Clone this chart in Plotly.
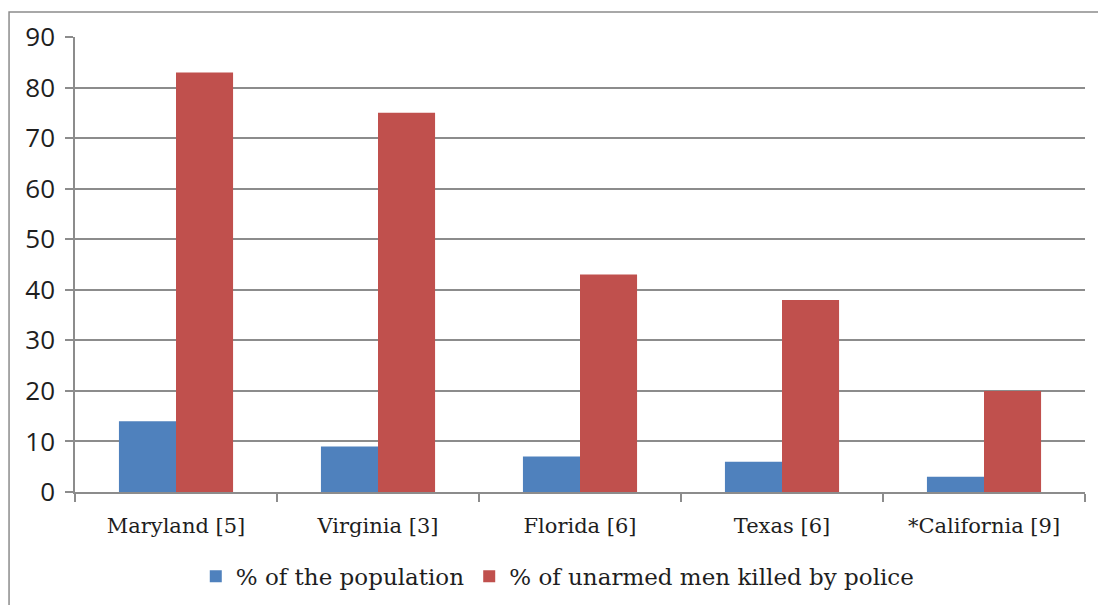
import plotly.graph_objects as go

states = ["Maryland [5]", "Virginia [3]", "Florida [6]", "Texas [6]", "*California [9]"]
pct_population = [14, 9, 7, 6, 3]
pct_unarmed_killed = [83, 75, 43, 38, 20]

BLUE = "#4F81BD"
RED = "#C0504D"
GRID = "#8C8C8C"

fig = go.Figure()
fig.add_trace(go.Bar(x=states, y=pct_population, name="% of the population",
                     marker=dict(color=BLUE, line=dict(width=0))))
fig.add_trace(go.Bar(x=states, y=pct_unarmed_killed, name="% of unarmed men killed by police",
                     marker=dict(color=RED, line=dict(width=0))))

fig.update_layout(
    width=1098, height=605,
    margin=dict(l=75, r=13, t=37, b=113, autoexpand=False),
    paper_bgcolor="white", plot_bgcolor="white",
    barmode="group", bargap=0.435, bargroupgap=0,
    showlegend=True,
    legend=dict(orientation="h", x=0.478, xanchor="center", y=-0.185, yanchor="middle",
                font=dict(family="DejaVu Serif", size=23, color="#1e1e1e"),
                itemwidth=30, tracegroupgap=0),
    shapes=[dict(type="rect", xref="paper", yref="paper",
                 x0=-0.0653, x1=1.05, y0=-0.3, y1=1.055,
                 line=dict(color="#8C8C8C", width=1.5), layer="below")],
)

fig.update_xaxes(
    automargin=False,
    showline=True, linecolor=GRID, linewidth=1.5,
    ticks="outside", ticklen=8, tickcolor=GRID, tickwidth=1.5,
    tickson="boundaries",
    tickfont=dict(family="DejaVu Serif", size=21, color="#1e1e1e"),
    ticklabelstandoff=14,
    showgrid=False,
)
fig.update_yaxes(
    automargin=False,
    range=[0, 90], dtick=10,
    showline=True, linecolor=GRID, linewidth=1.5,
    ticks="outside", ticklen=8, tickcolor=GRID, tickwidth=1.5,
    showgrid=True, gridcolor=GRID, gridwidth=1.5,
    zeroline=False,
    tickfont=dict(family="Open Sans", size=26, color="#1e1e1e"),
    ticklabelstandoff=5,
)

fig.write_html("out.html")
